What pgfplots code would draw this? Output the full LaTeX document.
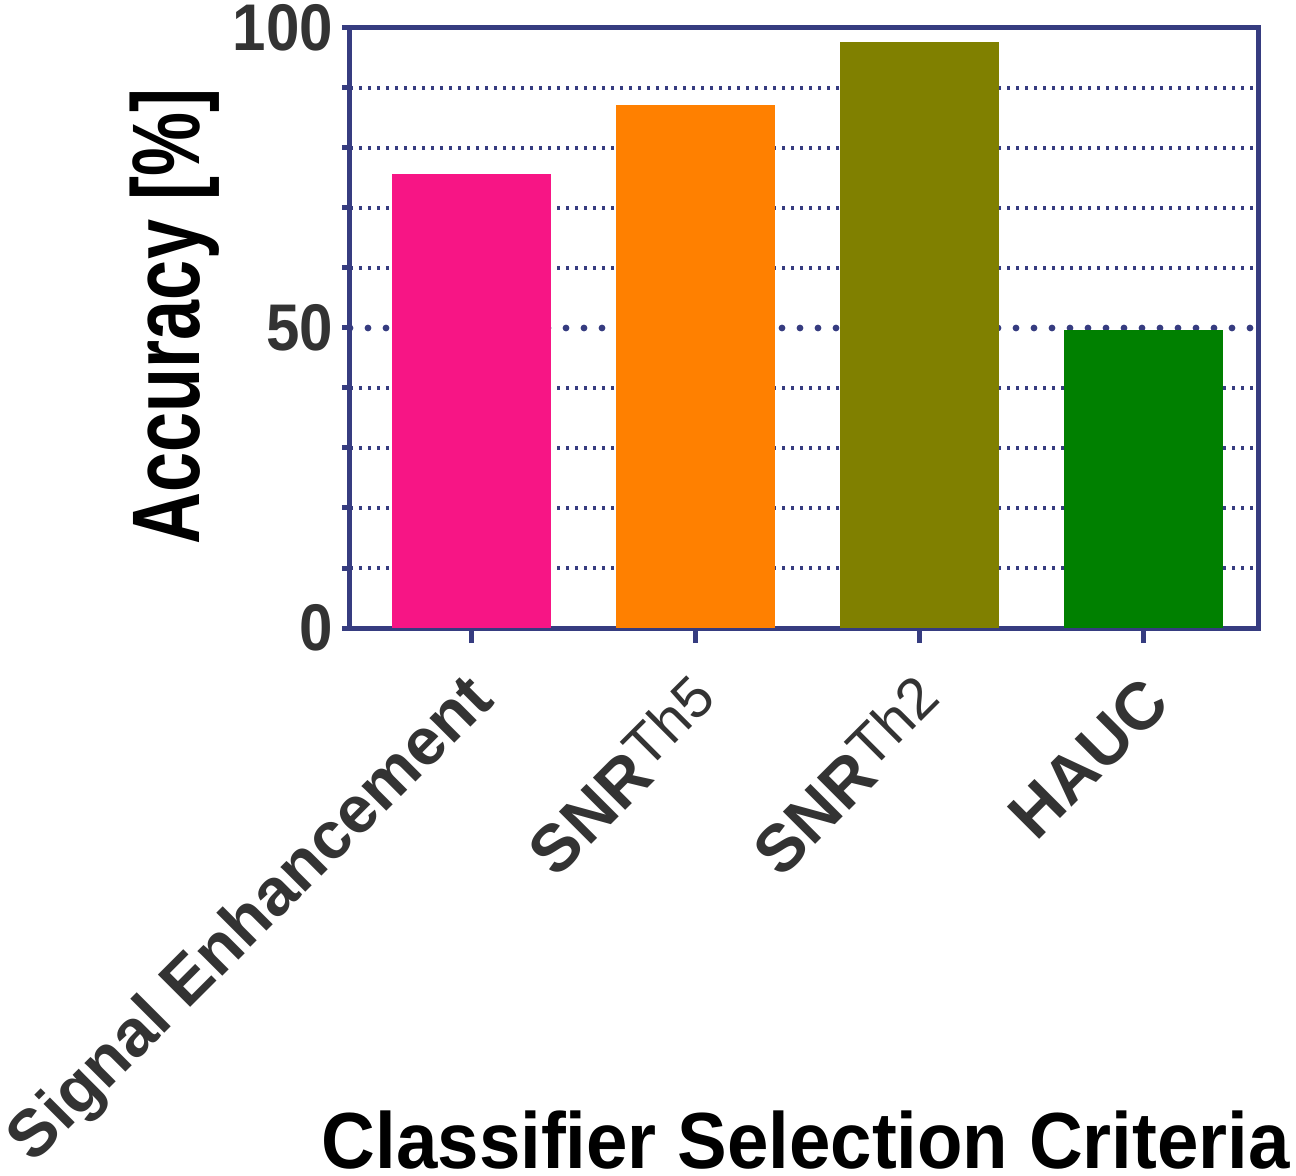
\documentclass[border=0pt]{standalone}
\usepackage{pgfplots}
\pgfplotsset{compat=1.18}
\usepackage{fontspec}
\setmainfont{Liberation Sans}
\usepackage{graphicx}
\definecolor{axisblue}{RGB}{54,60,128}
\definecolor{txt}{RGB}{51,51,51}
\definecolor{cpink}{RGB}{247,21,133}
\definecolor{corange}{RGB}{255,128,0}
\definecolor{colive}{RGB}{128,128,0}
\definecolor{cgreen}{RGB}{0,128,0}
\newcommand{\snr}[1]{\textbf{SNR}\raisebox{3pt}{\fontsize{14.5}{14.5}\selectfont\mdseries Th#1}}

\begin{document}
\begin{tikzpicture}
\begin{axis}[
  scale only axis, width=227pt, height=150pt,
  xmin=-0.54, xmax=3.51, ymin=0, ymax=100,
  ybar, bar width=39.75pt, bar shift=0pt,
  axis line style={axisblue, line width=1.25pt},
  tick align=outside, tick pos=left,
  major tick length=2pt, minor tick length=2pt,
  tick style={axisblue, line width=1.25pt},
  xtick=\empty,
  extra x ticks={0,1,2,3},
  extra x tick labels={Signal Enhancement, \snr{5}, \snr{2}, HAUC},
  extra x tick style={major tick length=3.75pt, grid=none, tick pos=left,
    xticklabel style={xshift=4pt, yshift=-11pt, rotate=45, anchor=east, inner sep=1pt, font=\fontsize{16.6}{16.6}\selectfont\bfseries, text=txt}},
  ytick={0,100}, minor ytick={10,20,30,40,60,70,80,90},
  extra y ticks={50},
  extra y tick style={ymajorgrids=true, tick pos=left},
  yminorgrids,
  major grid style={axisblue, line width=1.7pt, dash pattern=on 0pt off 4.5pt, line cap=round},
  minor grid style={axisblue, line width=0.8pt, dash pattern=on 0.75pt off 1.5pt},
  /pgf/number format/assume math mode=true,
  yticklabel={\scalebox{0.91}[1]{\pgfmathprintnumber{\tick}}},
  yticklabel style={font=\fontsize{16.5}{16.5}\selectfont\bfseries, text=txt, inner sep=2pt},
  ylabel={\scalebox{0.75}[1]{Accuracy [\%]}},
  ylabel style={at={(axis description cs:-0.193,0.52)}, anchor=center, font=\fontsize{24}{24}\selectfont\bfseries},
  xlabel={\scalebox{0.935}[1]{Classifier Selection Criteria}},
  xlabel style={at={(axis description cs:0.502,-0.853)}, anchor=center, font=\fontsize{19.9}{19.9}\selectfont\bfseries},
]
\addplot[fill=cpink, draw=none] coordinates {(0,75.6)};
\addplot[fill=corange, draw=none] coordinates {(1,87.1)};
\addplot[fill=colive, draw=none] coordinates {(2,97.7)};
\addplot[fill=cgreen, draw=none] coordinates {(3,49.6)};
\coordinate (o) at (rel axis cs:0,0);
\end{axis}
% fix the page to the reference's frame (rotated labels inflate the box)
\pgfresetboundingbox
\path ([xshift=-87.5pt, yshift=-137pt]o) rectangle ([xshift=236.5pt, yshift=157pt]o);
\end{tikzpicture}
\end{document}
